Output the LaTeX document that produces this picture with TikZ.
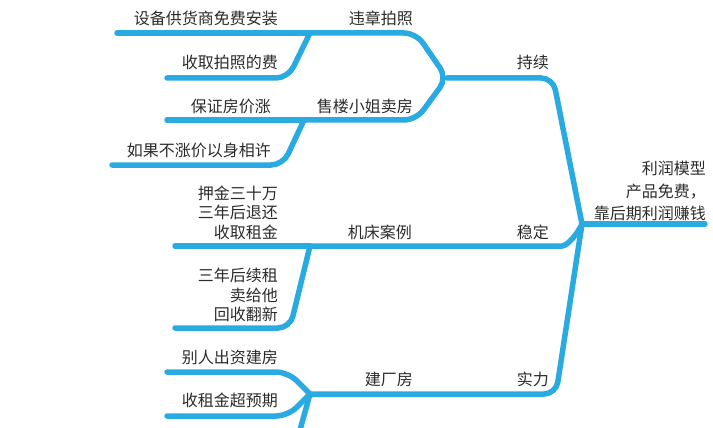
\documentclass[tikz,border=0pt]{standalone}
\usepackage{fontspec}
\newfontfamily\cjk{Noto Sans CJK SC}
\usetikzlibrary{positioning}
\definecolor{mmblue}{HTML}{29ABE2}
\definecolor{mmtext}{HTML}{2B2B2B}
\tikzset{
  branch/.style={draw=mmblue, line width=5.5pt, line cap=round,
    rounded corners=12pt},
  lbl/.style={anchor=east, inner sep=0pt, text=mmtext, align=right,
    font=\cjk\fontsize{16}{19.5}\selectfont},
  rootlbl/.style={lbl, font=\cjk\fontsize{16}{22.5}\selectfont},
}

\begin{document}
\begin{tikzpicture}[x=1pt, y=-1pt]
\clip (0,0) rectangle (713,428);

% ---- junctions and ends ----
\coordinate (rootj) at (582,224);
\coordinate (rootend) at (705,224);
\coordinate (jkeep) at (447,78);
\coordinate (jphoto) at (310,33);
\coordinate (jsales) at (304,120);
\coordinate (jlathe) at (310,246);
\coordinate (jplant) at (310,394);
\coordinate (esupplier) at (117,33);
\coordinate (efee) at (167,78);
\coordinate (eprice) at (167,120);
\coordinate (epromise) at (112,165);
\coordinate (edeposit) at (175,246);
\coordinate (erenew) at (175,328);
\coordinate (einvest) at (167,372);
\coordinate (erent) at (167,416);
\coordinate (emore) at (295,448);

% ---- Root ----
\node[rootlbl] (root) at (706,191) {利润模型\\产品免费，\\靠后期利润赚钱};
\draw[branch] (rootj) -- (rootend);

% ---- 持续 ----
\node[lbl] (keep) at (549,62) {持续};
\draw[branch] (rootj) -- (553,78) -- (jkeep);
\draw[branch] (jphoto) -- (416,33) -- (jkeep) -- (416,120) -- (jsales);
\node[lbl] (photo) at (413,18) {违章拍照};
\node[lbl] (sales) at (413,106) {售楼小姐卖房};

\node[lbl] (supplier) at (278,18) {设备供货商免费安装};
\node[lbl] (fee) at (278,62) {收取拍照的费};
\draw[branch] (esupplier) -- (jphoto);
\draw[branch] (jphoto) -- (288,78) -- (efee);

\node[lbl] (price) at (271,106) {保证房价涨};
\node[lbl] (promise) at (271,150) {如果不涨价以身相许};
\draw[branch] (eprice) -- (jsales);
\draw[branch] (jsales) -- (283,165) -- (epromise);

% ---- 稳定 ----
\node[lbl] (stable) at (549,232) {稳定};
\node[lbl] (lathe) at (412,232) {机床案例};
\draw[branch] (rootj) .. controls (574,240) and (565,246) .. (550,246) -- (jlathe);

\node[lbl] (deposit) at (278,212.5) {押金三十万\\三年后退还\\收取租金};
\node[lbl] (renew) at (278,295) {三年后续租\\卖给他\\回收翻新};
\draw[branch] (edeposit) -- (jlathe);
\draw[branch] (jlathe) -- (290,328) -- (erenew);

% ---- 实力 ----
\node[lbl] (power) at (549,379) {实力};
\node[lbl] (plant) at (413,379) {建厂房};
\draw[branch] (rootj) -- (556,394) -- (jplant);

\node[lbl] (invest) at (278,357) {别人出资建房};
\node[lbl] (rent) at (278,400) {收租金超预期};
\draw[branch] (jplant) -- (288,372) -- (einvest);
\draw[branch] (jplant) -- (288,416) -- (erent);
\draw[branch] (jplant) -- (emore);

\end{tikzpicture}
\end{document}
